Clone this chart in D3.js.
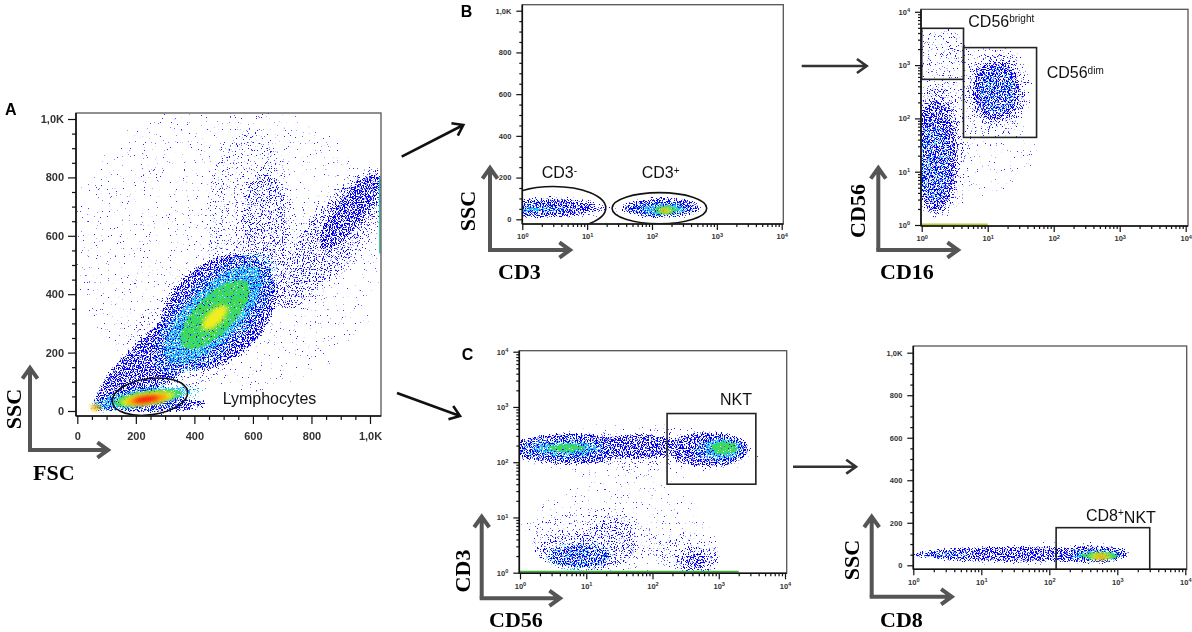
<!DOCTYPE html>
<html>
<head>
<meta charset="utf-8">
<script src="https://cdn.jsdelivr.net/npm/d3@7"></script>
<style>
  body { margin: 0; background: #fff; }
  svg { display: block; }
</style>
</head>
<body>
<div id="chart"></div>
<script>
// ---------- values ----------
const linTicks = [0, 200, 400, 600, 800, 1000];
const linTickLabels = ["0", "200", "400", "600", "800", "1,0K"];
const logTicks = [1, 10, 100, 1000, 10000];
const logExps = ["0", "1", "2", "3", "4"];

// density blobs: [x, y, spreadX, spreadY, tilt (deg), level]
// spreads are in channel units on linear axes and in decades on log axes
const fscSscPop = [
    [520, 560, 560, 520, 0, 0],
    [590, 640, 170, 360, 0, 1],
    [880, 600, 300, 130, -55, 1],
    [420, 290, 340, 190, -40, 1],
    [640, 640, 90, 200, 0, 2],
    [870, 600, 280, 100, -53, 2],
    [760, 450, 130, 80, -45, 2],
    [360, 250, 390, 100, -39, 3],
    [480, 340, 240, 170, -45, 3],
    [930, 680, 170, 60, -52, 3],
    [250, 25, 200, 35, 0, 3],
    [470, 330, 280, 130, -45, 4],
    [240, 45, 200, 50, -8, 4],
    [465, 330, 230, 100, -45, 5],
    [230, 45, 170, 38, -8, 5],
    [75, 18, 40, 18, 0, 5],
    [470, 330, 160, 70, -45, 6],
    [240, 45, 125, 28, -8, 6],
    [470, 320, 55, 26, -45, 7],
    [240, 42, 95, 20, -8, 7],
    [65, 12, 18, 8, 0, 7],
    [240, 40, 70, 14, -8, 8],
    [60, 12, 12, 6, 0, 8],
    [235, 40, 42, 9, -8, 9]
];

const cd3SscPop = [
    [20, 60, 0.5, 60, 0, 0],
    [3, 55, 0.95, 68, 0, 1],
    [140, 55, 0.75, 65, 0, 1],
    [3, 55, 0.85, 60, 0, 2],
    [2.4, 55, 0.8, 56, 0, 3],
    [140, 55, 0.65, 55, 0, 3],
    [1.6, 50, 0.55, 35, 0, 4],
    [140, 50, 0.55, 45, 0, 4],
    [1.2, 48, 0.4, 22, 0, 5],
    [150, 48, 0.4, 38, 0, 5],
    [165, 44, 0.22, 24, 0, 6],
    [160, 42, 0.1, 12, 0, 7],
    [155, 42, 0.05, 6, 0, 8]
];

const cd16Cd56Pop = [
    [10, 25, 0.8, 0.9, 0, 0],
    [2, 1500, 0.5, 0.6, 0, 1],
    [2.2, 40, 0.5, 1.5, 0, 1],
    [13, 330, 0.62, 0.95, 0, 1],
    [1.7, 25, 0.42, 1.3, 0, 2],
    [13.5, 330, 0.5, 0.75, 0, 2],
    [1.6, 20, 0.36, 1.1, 0, 3],
    [13.5, 330, 0.4, 0.6, 0, 3],
    [1.5, 15, 0.28, 0.8, 0, 4],
    [14, 330, 0.32, 0.48, 0, 4]
];

const cd56Cd3Pop = [
    [60, 150, 1.9, 0.6, 0, 0],
    [30, 6, 1.5, 0.9, 0, 0],
    [60, 170, 1.85, 0.42, 0, 1],
    [12, 4, 1.0, 0.65, 0, 1],
    [320, 2.5, 0.6, 0.45, 0, 1],
    [10, 2.5, 0.8, 0.4, 0, 2],
    [25, 4.5, 0.4, 0.4, 0, 2],
    [450, 1.7, 0.38, 0.3, 0, 2],
    [8, 2, 0.5, 0.25, 0, 3],
    [450, 1.6, 0.2, 0.18, 0, 3],
    [6, 175, 0.95, 0.32, 0, 3],
    [60, 190, 0.7, 0.26, 0, 3],
    [700, 170, 0.65, 0.35, 0, 3],
    [8, 2, 0.55, 0.3, 0, 4],
    [5, 175, 0.75, 0.24, 0, 4],
    [1000, 170, 0.42, 0.28, 0, 4],
    [5, 175, 0.55, 0.16, 0, 5],
    [1100, 175, 0.32, 0.22, 0, 5],
    [5, 180, 0.3, 0.09, 0, 6],
    [1200, 180, 0.22, 0.14, 0, 6]
];

const cd8SscPop = [
    [40, 52, 1.7, 62, 0, 1],
    [420, 58, 0.6, 62, 0, 1],
    [35, 52, 1.6, 45, 0, 3],
    [400, 52, 0.6, 50, 0, 3],
    [3, 48, 0.5, 25, 0, 4],
    [470, 50, 0.5, 40, 0, 4],
    [500, 48, 0.4, 32, 0, 5],
    [550, 45, 0.3, 24, 0, 6],
    [560, 42, 0.16, 14, 0, 7],
    [560, 40, 0.08, 8, 0, 8]
];

// events piled up on an axis edge: [from, to]
const fscSscEdge = [540, 800];
const cd16Cd56Edge = [1, 10];
const cd56Cd3Edge = [1, 2000];

// gates: ellipses [x, y, spreadX, spreadY, tilt], rectangles [x0, x1, y0, y1]
const lymphGate = [248, 49, 130, 62, -8];
const cd3NegGate = [3.0, 54, 0.81, 103, 0];
const cd3PosGate = [130, 53, 0.73, 75, 0];
const cd56BrightGate = [1, 4.3, 540, 4900];
const cd56DimGate = [4.3, 55, 44, 2130];
const nktGate = [166, 3630, 40, 760];
const cd8NktGate = [126, 3000, -30, 177];

// ---------- drawing ----------
const W = 1192, H = 632;
const svg = d3.select("#chart").append("svg").attr("width", W).attr("height", H);
const defs = svg.append("defs");

// pseudo-colour density levels; "dots" is the noise cut-off inside a blob
const LEVELS = [
    { color: "#2828ff", dots: 0.72, blur: 5, seed: 3 },
    { color: "#1818ff", dots: 0.65, blur: 4, seed: 3 },
    { color: "#0a0aff", dots: 0.57, blur: 2.5, seed: 3 },
    { color: "#0000ee", dots: 0.47, blur: 2, seed: 3 },
    { color: "#22c8f2", dots: 0.6, blur: 2, seed: 11 },
    { color: "#1ec8f0", dots: 0.44, blur: 2, seed: 11 },
    { color: "#3edc4c", dots: 0.36, blur: 1.5, seed: 17 },
    { color: "#f0ee20", blur: 2 },
    { color: "#ff8a00", blur: 2 },
    { color: "#ee1414", blur: 2 }
];
const NOISE_GAIN = 0.8, TOP = 0.82;

LEVELS.forEach((lv, i) => {
    var f = defs.append("filter")
        .attr("id", "lv" + i)
        .attr("filterUnits", "userSpaceOnUse")
        .attr("x", 0).attr("y", 0).attr("width", W).attr("height", H)
        .attr("color-interpolation-filters", "sRGB");
    if (lv.dots == undefined) {
        f.append("feGaussianBlur").attr("in", "SourceGraphic").attr("stdDeviation", lv.blur);
        return;
    }
    f.append("feTurbulence")
        .attr("type", "fractalNoise")
        .attr("baseFrequency", 0.85)
        .attr("numOctaves", 2)
        .attr("seed", lv.seed)
        .attr("result", "noise");
    f.append("feColorMatrix")
        .attr("in", "noise").attr("type", "matrix")
        .attr("values", "0 0 0 0 0  0 0 0 0 0  0 0 0 0 0  1 0 0 0 0")
        .attr("result", "na");
    f.append("feGaussianBlur")
        .attr("in", "SourceAlpha").attr("stdDeviation", lv.blur).attr("result", "ba");
    f.append("feComposite")
        .attr("in", "na").attr("in2", "ba").attr("operator", "arithmetic")
        .attr("k1", 0).attr("k2", NOISE_GAIN).attr("k3", TOP - NOISE_GAIN * lv.dots).attr("k4", 0)
        .attr("result", "sum");
    f.append("feColorMatrix")
        .attr("in", "sum").attr("type", "matrix")
        .attr("values", "0 0 0 0 0  0 0 0 0 0  0 0 0 0 0  0 0 0 18 " + (-18 * TOP))
        .attr("result", "mask");
    f.append("feFlood").attr("flood-color", lv.color).attr("result", "col");
    f.append("feComposite").attr("in", "col").attr("in2", "mask").attr("operator", "in");
});

function spread(s, type, v, d) {
    return Math.abs(type === "log" ? s(v * Math.pow(10, d)) - s(v) : s(v + d) - s(v));
}

const panels = [
    {
        id: "A", big: true, pop: fscSscPop,
        frame: { x0: 76, y0: 113, x1: 381, y1: 416 },
        xType: "lin", x: d3.scaleLinear().domain([0, 1000]).range([77.3, 370]),
        yType: "lin", y: d3.scaleLinear().domain([0, 1000]).range([411, 119]),
        edge: { axis: "right", range: fscSscEdge, color: "#20c8a0" },
        gates: [{ type: "ellipse", v: lymphGate }]
    },
    {
        id: "B1", pop: cd3SscPop,
        frame: { x0: 522.3, y0: 4.7, x1: 783.3, y1: 224 },
        xType: "log", x: d3.scaleLog().domain([1, 10000]).range([522.3, 781.7]),
        yType: "lin", y: d3.scaleLinear().domain([0, 1000]).range([219.3, 10.7]),
        gates: [{ type: "ellipse", v: cd3NegGate }, { type: "ellipse", v: cd3PosGate }]
    },
    {
        id: "B2", pop: cd16Cd56Pop,
        frame: { x0: 921, y0: 9.3, x1: 1188, y1: 226 },
        xType: "log", x: d3.scaleLog().domain([1, 10000]).range([921.7, 1185.7]),
        yType: "log", y: d3.scaleLog().domain([1, 10000]).range([225, 11.8]),
        edge: { axis: "bottom", range: cd16Cd56Edge, color: "#b8c830" },
        gates: [{ type: "rect", v: cd56BrightGate }, { type: "rect", v: cd56DimGate }]
    },
    {
        id: "C1", pop: cd56Cd3Pop,
        frame: { x0: 519.3, y0: 350.7, x1: 786.7, y1: 573.3 },
        xType: "log", x: d3.scaleLog().domain([1, 10000]).range([520, 785]),
        yType: "log", y: d3.scaleLog().domain([1, 10000]).range([572.7, 351.7]),
        edge: { axis: "bottom", range: cd56Cd3Edge, color: "#3cb43c" },
        gates: [{ type: "rect", v: nktGate }]
    },
    {
        id: "C2", pop: cd8SscPop,
        frame: { x0: 913.3, y0: 346, x1: 1186.7, y1: 569.3 },
        xType: "log", x: d3.scaleLog().domain([1, 10000]).range([913.3, 1185.3]),
        yType: "lin", y: d3.scaleLinear().domain([0, 1000]).range([565.3, 352.7]),
        gates: [{ type: "rect", v: cd8NktGate }]
    }
];

panels.forEach(p => {
    var f = p.frame, x = p.x, y = p.y;
    defs.append("clipPath").attr("id", "clip" + p.id)
        .append("rect")
        .attr("x", f.x0).attr("y", f.y0)
        .attr("width", f.x1 - f.x0).attr("height", f.y1 - f.y0);

    var plot = svg.append("g").attr("clip-path", "url(#clip" + p.id + ")");

    // density levels, low to high
    LEVELS.forEach((lv, i) => {
        var blobs = p.pop.filter(b => b[5] === i);
        if (!blobs.length) return;
        plot.append("g")
            .attr("filter", "url(#lv" + i + ")")
            .selectAll("ellipse")
            .data(blobs)
            .join("ellipse")
            .attr("cx", d => x(d[0]))
            .attr("cy", d => y(d[1]))
            .attr("rx", d => spread(x, p.xType, d[0], d[2]))
            .attr("ry", d => spread(y, p.yType, d[1], d[3]))
            .attr("transform", d => "rotate(" + d[4] + " " + x(d[0]) + " " + y(d[1]) + ")")
            .style("fill", lv.color);
    });

    // piled-up events on an edge
    if (p.edge) {
        var e = p.edge;
        if (e.axis === "bottom") {
            plot.append("line")
                .attr("x1", x(e.range[0])).attr("x2", x(e.range[1]))
                .attr("y1", f.y1 - 1.5).attr("y2", f.y1 - 1.5)
                .style("stroke", e.color).style("stroke-width", "2px");
        } else {
            plot.append("line")
                .attr("x1", f.x1 - 1.2).attr("x2", f.x1 - 1.2)
                .attr("y1", y(e.range[0])).attr("y2", y(e.range[1]))
                .style("stroke", e.color).style("stroke-width", "1.4px");
        }
    }

    // gates
    p.gates.forEach(gt => {
        var v = gt.v;
        if (gt.type === "ellipse") {
            plot.append("ellipse")
                .attr("cx", x(v[0])).attr("cy", y(v[1]))
                .attr("rx", spread(x, p.xType, v[0], v[2]))
                .attr("ry", spread(y, p.yType, v[1], v[3]))
                .attr("transform", "rotate(" + v[4] + " " + x(v[0]) + " " + y(v[1]) + ")")
                .style("fill", "none").style("stroke", "#111").style("stroke-width", "1.6px");
        } else {
            plot.append("rect")
                .attr("x", x(v[0])).attr("y", y(v[3]))
                .attr("width", x(v[1]) - x(v[0]))
                .attr("height", y(v[2]) - y(v[3]))
                .style("fill", "none").style("stroke", "#222").style("stroke-width", "1.6px");
        }
    });

    // frame
    svg.append("rect")
        .attr("x", f.x0).attr("y", f.y0)
        .attr("width", f.x1 - f.x0).attr("height", f.y1 - f.y0)
        .style("fill", "none").style("stroke", "#555").style("stroke-width", "1.3px");

    drawAxes(p);
});

function styleAxis(g, fs) {
    g.attr("font-family", "'Liberation Sans', Arial, sans-serif")
        .attr("font-size", fs)
        .attr("font-weight", "bold")
        .style("color", "#333");
    g.select(".domain").remove();
    g.selectAll(".tick line").style("stroke", "#111").style("stroke-width", "1.2px");
}

function drawAxes(p) {
    var f = p.frame, big = !!p.big;
    var fs = big ? 11 : 7.5,
        major = big ? 8 : 6,
        minor = big ? 4 : 3,
        padX = big ? 8 : 4,
        padY = big ? 4 : 5;

    [["x", p.x, p.xType], ["y", p.y, p.yType]].forEach(([dim, s, type]) => {
        var isLog = type === "log";
        var maj = isLog ? logTicks : linTicks;
        var minT = (isLog ? s.ticks() : s.ticks(20)).filter(v => maj.indexOf(v) < 0);
        var make = dim === "x" ? d3.axisBottom : d3.axisLeft;
        var tr = dim === "x" ? "translate(0," + f.y1 + ")" : "translate(" + f.x0 + ",0)";

        var gMin = svg.append("g").attr("transform", tr)
            .call(make(s).tickValues(minT).tickSize(minor).tickFormat(""));
        styleAxis(gMin, fs);

        var gMaj = svg.append("g").attr("transform", tr)
            .call(make(s).tickValues(maj).tickSize(major)
                .tickPadding(dim === "x" ? padX : padY)
                .tickFormat((d, i) => isLog ? "10" : linTickLabels[i]));
        styleAxis(gMaj, fs);
        if (isLog) {
            gMaj.selectAll(".tick text").each(function (d, i) {
                d3.select(this).append("tspan")
                    .attr("dy", "-0.45em")
                    .attr("font-size", "0.75em")
                    .text(logExps[i]);
            });
        }

        // axis line along the frame
        svg.append("line")
            .attr("x1", f.x0).attr("y1", f.y1)
            .attr("x2", dim === "x" ? f.x1 : f.x0)
            .attr("y2", dim === "x" ? f.y1 : f.y0)
            .style("stroke", "#111").style("stroke-width", "1.6px");
    });
}

// ---------- annotation ----------
function arrow(x1, y1, x2, y2, color, width, head) {
    var a = Math.atan2(y2 - y1, x2 - x1), s = 0.62;
    var d = "M" + x1 + "," + y1 + "L" + x2 + "," + y2 +
        "M" + (x2 - head * Math.cos(a - s)) + "," + (y2 - head * Math.sin(a - s)) +
        "L" + x2 + "," + y2 +
        "L" + (x2 - head * Math.cos(a + s)) + "," + (y2 - head * Math.sin(a + s));
    svg.append("path")
        .attr("d", d)
        .style("fill", "none")
        .style("stroke", color)
        .style("stroke-width", width + "px")
        .style("stroke-linejoin", "miter");
}

// axis direction arrows with parameter names
const axisArrows = [
    { ox: 30, oy: 450, top: 368, right: 108, yName: "SSC", yx: 13, yy: 409, xName: "FSC", xx: 33, xy: 480 },
    { ox: 490, oy: 250, top: 168, right: 570, yName: "SSC", yx: 467, yy: 211, xName: "CD3", xx: 498, xy: 279 },
    { ox: 878.3, oy: 250, top: 168, right: 958, yName: "CD56", yx: 857, yy: 211, xName: "CD16", xx: 880, xy: 279 },
    { ox: 481.7, oy: 598.3, top: 516.7, right: 560, yName: "CD3", yx: 462, yy: 571, xName: "CD56", xx: 489, xy: 627 },
    { ox: 871.7, oy: 596.7, top: 516.7, right: 951.7, yName: "SSC", yx: 851, yy: 560, xName: "CD8", xx: 880, xy: 627 }
];

axisArrows.forEach(a => {
    arrow(a.ox, a.oy, a.ox, a.top, "#555", 4, 13);
    arrow(a.ox - 2, a.oy, a.right, a.oy, "#555", 4, 13);
    svg.append("text")
        .attr("transform", "translate(" + a.yx + "," + a.yy + ") rotate(-90)")
        .attr("text-anchor", "middle")
        .attr("dominant-baseline", "central")
        .style("font-family", "'Liberation Serif', 'Times New Roman', serif")
        .style("font-weight", "bold")
        .style("font-size", "22px")
        .text(a.yName);
    svg.append("text")
        .attr("x", a.xx).attr("y", a.xy)
        .style("font-family", "'Liberation Serif', 'Times New Roman', serif")
        .style("font-weight", "bold")
        .style("font-size", "22px")
        .text(a.xName);
});

// flow between panels
arrow(401.7, 156.7, 463.3, 125, "#111", 2.6, 12);
arrow(397, 393, 460, 416, "#111", 2.6, 12);
arrow(801.7, 66, 866.7, 66, "#333", 2.6, 12);
arrow(793, 466.7, 856, 466.7, "#333", 2.6, 12);

// panel letters
[["A", 5, 115], ["B", 460.7, 16.7], ["C", 461.7, 360]].forEach(l => {
    svg.append("text")
        .attr("x", l[1]).attr("y", l[2])
        .style("font-family", "'Liberation Sans', Arial, sans-serif")
        .style("font-weight", "bold")
        .style("font-size", "16px")
        .text(l[0]);
});

// gate names: [text, superscript, trailing text, x, y]
const gateLabels = [
    ["Lymphocytes", "", "", 222.7, 404],
    ["CD3", "-", "", 541.7, 178.3],
    ["CD3", "+", "", 641.7, 178.3],
    ["CD56", "bright", "", 968.3, 26.7],
    ["CD56", "dim", "", 1046.7, 78.3],
    ["NKT", "", "", 720, 405],
    ["CD8", "+", "NKT", 1086, 520.7]
];

gateLabels.forEach(l => {
    var t = svg.append("text")
        .attr("x", l[3]).attr("y", l[4])
        .style("font-family", "'Liberation Sans', Arial, sans-serif")
        .style("font-size", "16px")
        .style("fill", "#111")
        .text(l[0]);
    if (l[1]) {
        t.append("tspan").attr("dy", "-0.45em").style("font-size", "10px").text(l[1]);
    }
    if (l[2]) {
        t.append("tspan").attr("dy", "0.45em").text(l[2]);
    }
});
</script>
</body>
</html>
